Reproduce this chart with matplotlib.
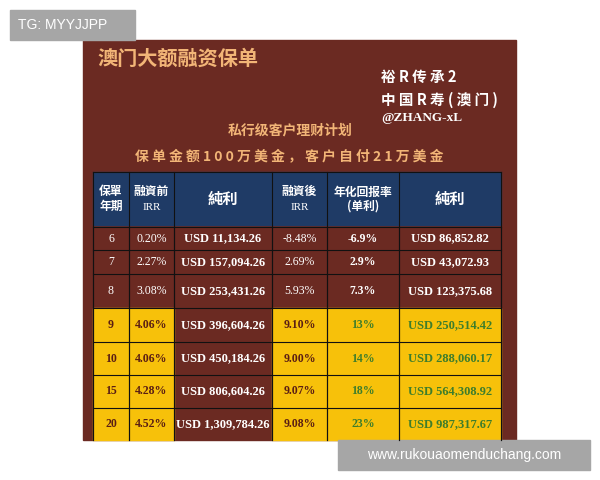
import matplotlib
matplotlib.use("Agg")
import matplotlib.pyplot as plt
from matplotlib.patches import Rectangle

years = ["6", "7", "8", "9", "10", "15", "20"]
irr_before = ["0.20%", "2.27%", "3.08%", "4.06%", "4.06%", "4.28%", "4.52%"]
net_before = ["USD 11,134.26", "USD 157,094.26", "USD 253,431.26", "USD 396,604.26",
              "USD 450,184.26", "USD 806,604.26", "USD 1,309,784.26"]
irr_after = ["-8.48%", "2.69%", "5.93%", "9.10%", "9.00%", "9.07%", "9.08%"]
annual = ["-6.9%", "2.9%", "7.3%", "13%", "14%", "18%", "23%"]
net_after = ["USD 86,852.82", "USD 43,072.93", "USD 123,375.68", "USD 250,514.42",
             "USD 288,060.17", "USD 564,308.92", "USD 987,317.67"]
highlight = [False, False, False, True, True, True, True]
headers = [("保單\n年期", None), ("融資前", "IRR"), ("純利", None), ("融資後", "IRR"),
           ("年化回报率\n(单利)", None), ("純利", None)]

CJK = ["Noto Sans CJK SC", "DejaVu Sans"]
SERIF = ["Liberation Serif", "DejaVu Serif"]
MAROON = "#6b2a22"
NAVY = "#1f3b66"
YELLOW = "#f7c10a"
PEACH = "#f2b577"
GREEN = "#3d7d2c"
DARK = "#5a1e14"

fig = plt.figure(figsize=(6, 4.8), dpi=100)
ax = fig.add_axes([0, 0, 1, 1])
ax.set_xlim(0, 600); ax.set_ylim(480, 0); ax.axis("off")

ax.add_patch(Rectangle((83, 40), 433, 400, color=MAROON))
ax.text(97, 58, "澳门大额融资保单", family=CJK, weight="bold", fontsize=14.5, color=PEACH, va="center")
ax.text(381, 77, "裕 R 传 承 2", family=CJK, weight="bold", fontsize=10.5, color="white", va="center")
ax.text(381, 100, "中 国 R 寿 ( 澳 门 )", family=CJK, weight="bold", fontsize=10.5, color="white", va="center")
ax.text(381, 118, "@ZHANG-xL", family=SERIF, weight="bold", fontsize=9.5, color="white", va="center")
ax.text(290, 131, "私行级客户理财计划", family=CJK, weight="bold", fontsize=10, color=PEACH, ha="center", va="center")
ax.text(289, 156, "保 单 金 额 1 0 0 万 美 金 ， 客 户 自 付 2 1 万 美 金", family=CJK, weight="bold",
        fontsize=10, color=PEACH, ha="center", va="center")

cols = [93, 129, 174, 272, 327, 399, 501]
rows = [227, 250, 274, 308, 342, 375, 408, 440]
ax.add_patch(Rectangle((cols[0], 172), cols[-1] - cols[0], 53, color=NAVY))
for i, (h, sub) in enumerate(headers):
    cx = (cols[i] + cols[i + 1]) / 2
    if sub:
        ax.text(cx, 191, h, family=CJK, weight="bold", fontsize=8.5, color="white", ha="center", va="center")
        ax.text(cx, 207, sub, family=SERIF, fontsize=8, color="white", ha="center", va="center")
    else:
        fs = 11 if h == "純利" else 8.5
        ax.text(cx, 199, h, family=CJK, weight="bold", fontsize=fs, color="white", ha="center",
                va="center", linespacing=1.1)
for x in cols:
    ax.plot([x, x], [172, 440], color="#111111", lw=0.8)
ax.plot([cols[0], cols[-1]], [172, 172], color="#111111", lw=0.8)

for r in range(len(years)):
    y0, y1 = rows[r], rows[r + 1]
    cy = (y0 + y1) / 2
    vals = [years[r], irr_before[r], net_before[r], irr_after[r], annual[r], net_after[r]]
    for c in range(6):
        if highlight[r] and c != 2:
            ax.add_patch(Rectangle((cols[c], y0), cols[c + 1] - cols[c], y1 - y0, color=YELLOW))
            color = GREEN if c >= 4 else DARK
            weight = "bold"
        else:
            color = "white"
            weight = "bold" if c in (2, 4, 5) else "normal"
        fs = 9 if c in (2, 5) else 8.5
        ax.text((cols[c] + cols[c + 1]) / 2, cy, vals[c], family=SERIF, weight=weight, fontsize=fs,
                color=color, ha="center", va="center")
    ax.plot([cols[0], cols[-1]], [y0, y0], color="#111111", lw=0.8)
for x in cols:
    ax.plot([x, x], [227, 440], color="#111111", lw=0.8)

ax.add_patch(Rectangle((10, 10), 125, 30, color="#a6a6a6"))
ax.text(18, 25, "TG: MYYJJPP", fontsize=10, color="white", va="center", family=["Liberation Sans"])
ax.add_patch(Rectangle((338, 440), 252, 30, color="#a6a6a6"))
ax.text(464, 455, "www.rukouaomenduchang.com", fontsize=10, color="white", ha="center", va="center",
        family=["Liberation Sans"])

fig.savefig("out.png", dpi=100, facecolor="white")
